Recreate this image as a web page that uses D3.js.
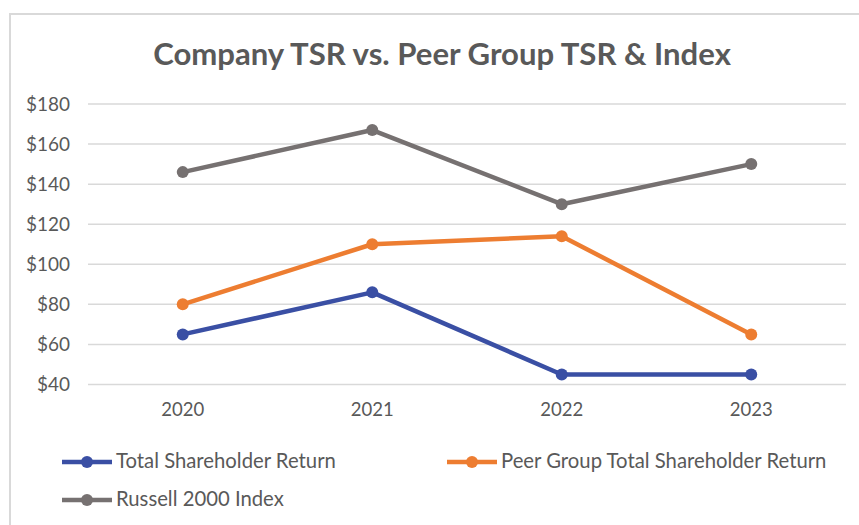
<!DOCTYPE html>
<html>
<head>
<meta charset="utf-8">
<script src="https://cdn.jsdelivr.net/npm/d3@7"></script>
<style>
  html, body { margin: 0; padding: 0; background: #fff; }
  svg { display: block; }
  text { font-family: Lato, "Open Sans", sans-serif; fill: #595959; }
</style>
</head>
<body>
<svg id="chart" width="859" height="525"></svg>
<script>
const title = "Company TSR vs. Peer Group TSR & Index";
const years = ["2020", "2021", "2022", "2023"];
const tsr = [65, 86, 45, 45];
const peer = [80, 110, 114, 65];
const russell = [146, 167, 130, 150];
const yTicks = [40, 60, 80, 100, 120, 140, 160, 180];
const seriesNames = ["Total Shareholder Return", "Peer Group Total Shareholder Return", "Russell 2000 Index"];
const seriesColors = ["#3A4FA4", "#ED7D31", "#767171"];

const series = [
  { name: seriesNames[0], values: tsr, color: seriesColors[0] },
  { name: seriesNames[1], values: peer, color: seriesColors[1] },
  { name: seriesNames[2], values: russell, color: seriesColors[2] }
];

const svg = d3.select("#chart");

// chart border
svg.append("rect").attr("x", 10).attr("y", 14).attr("width", 900).attr("height", 560)
  .attr("fill", "#fff").attr("stroke", "#d9d9d9").attr("stroke-width", 2);

function fitSize(node, fs, target) {
  return fs * target / node.getComputedTextLength();
}

// title
const t = svg.append("text").attr("x", 442).attr("y", 65).attr("text-anchor", "middle")
  .attr("font-size", 28).attr("font-weight", 700).text(title);
t.attr("font-size", fitSize(t.node(), 28, 578));

const x = d3.scaleBand().domain(years).range([88, 846]);
const y = d3.scaleLinear().domain([40, 180]).range([384.5, 104]);

// gridlines
svg.append("g").selectAll("line").data(yTicks).join("line")
  .attr("x1", 88).attr("x2", 846)
  .attr("y1", d => y(d)).attr("y2", d => y(d))
  .attr("stroke", "#d9d9d9").attr("stroke-width", 1.5);

// y axis labels
const yAxis = svg.append("g").attr("transform", "translate(70,0)")
  .call(d3.axisLeft(y).tickValues(yTicks).tickSize(0).tickPadding(0).tickFormat(d => "$" + d));
yAxis.select(".domain").remove();
const yt = yAxis.selectAll("text").attr("font-size", 18).attr("fill", "#595959")
  .attr("font-family", "Lato, 'Open Sans', sans-serif");
const yRef = yt.filter(d => d === 180).node();
const yfs = fitSize(yRef, 18, 44);
yt.attr("font-size", yfs);

// x axis labels
const xAxis = svg.append("g").attr("transform", "translate(0,403)")
  .call(d3.axisBottom(x).tickSize(0).tickPadding(0));
xAxis.select(".domain").remove();
const xt = xAxis.selectAll("text").attr("font-size", 18).attr("fill", "#595959")
  .attr("font-family", "Lato, 'Open Sans', sans-serif");
const xfs = fitSize(xt.node(), 18, 43);
xt.attr("font-size", xfs);

const cx = d => x(d) + x.bandwidth() / 2;
const line = d3.line().x((d, i) => cx(years[i])).y(d => y(d));

const g = svg.append("g");
series.slice().reverse().forEach(s => {
  g.append("path").attr("d", line(s.values)).attr("fill", "none")
    .attr("stroke", s.color).attr("stroke-width", 4.5).attr("stroke-linejoin", "round");
  g.selectAll(null).data(s.values).join("circle")
    .attr("cx", (d, i) => cx(years[i])).attr("cy", d => y(d)).attr("r", 6)
    .attr("fill", s.color);
});

// legend
const legendPos = [[62, 462], [447, 462], [62, 500]];
let legendFs = null;
series.forEach((s, i) => {
  const [lx, ly] = legendPos[i];
  const lg = svg.append("g");
  lg.append("line").attr("x1", lx).attr("x2", lx + 50).attr("y1", ly).attr("y2", ly)
    .attr("stroke", s.color).attr("stroke-width", 4.5);
  lg.append("circle").attr("cx", lx + 25).attr("cy", ly).attr("r", 6).attr("fill", s.color);
  const tx = lg.append("text").attr("x", lx + 54).attr("y", ly + 6).attr("font-size", 17).text(s.name);
  if (legendFs === null) legendFs = fitSize(tx.node(), 17, 220);
  tx.attr("font-size", legendFs);
});
</script>
</body>
</html>
